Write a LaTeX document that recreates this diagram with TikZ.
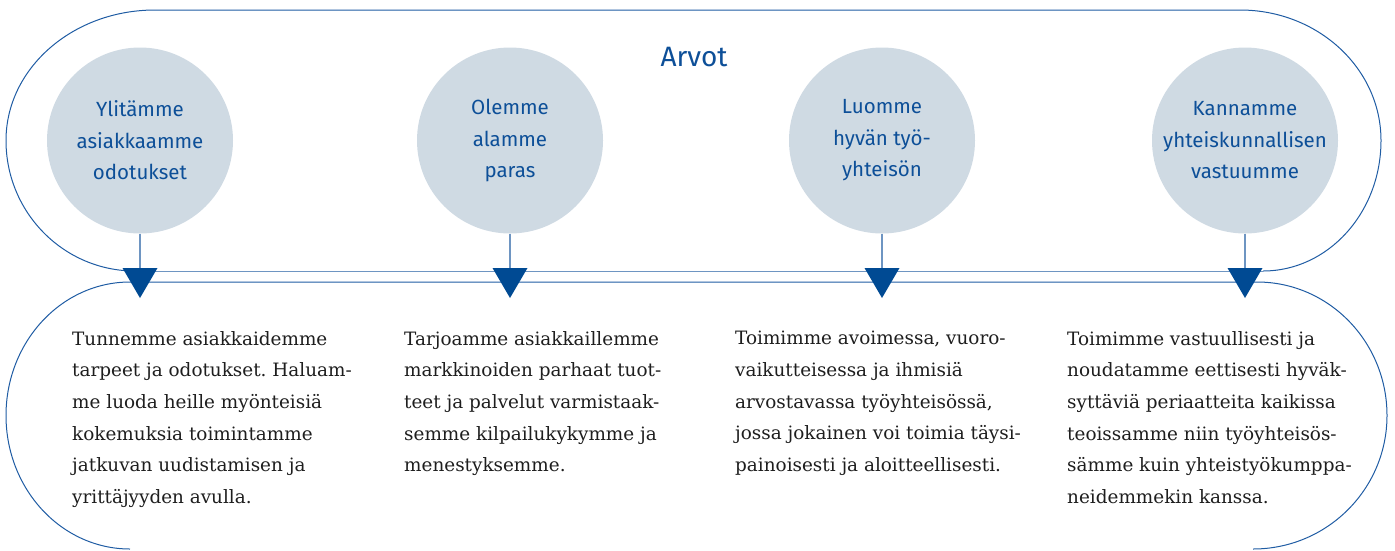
\documentclass[tikz,border=0pt]{standalone}
\usepackage{fontspec}
\setmainfont{DejaVu Serif}
\newfontfamily\labfont{Fira Sans}
\frenchspacing
\definecolor{frameblue}{HTML}{1F5CA3}
\definecolor{lightline}{HTML}{6E95C2}
\definecolor{circfill}{HTML}{CFDAE3}
\definecolor{labblue}{HTML}{0D4F98}
\definecolor{tridark}{HTML}{004A93}
\definecolor{bodytext}{HTML}{1E1E1E}
\tikzset{
  frame/.style={draw=frameblue, line width=1pt},
  lightframe/.style={draw=lightline, line width=1pt},
  circ/.style={circle, fill=circfill, minimum size=186pt, inner sep=0pt, align=center,
    text=labblue, font=\labfont\fontsize{20.5}{31.5}\selectfont},
  conn/.style={draw=lightline, line width=1.3pt},
  tri/.style={fill=tridark},
  body/.style={anchor=north west, inner sep=0pt, align=left, text=bodytext,
    font=\frenchspacing\fontsize{18.4}{31.7}\selectfont},
  titletext/.style={text=labblue, font=\labfont\fontsize{28}{30}\selectfont}
}
\begin{document}
\begin{tikzpicture}[x=1pt,y=-1pt]
\useasboundingbox (0,0) rectangle (1395,550);
% upper frame
\draw[frame] (135,271) .. controls (63.8,271) and (6,212.6) .. (6,140.5)
  .. controls (6,68.4) and (72.7,10) .. (155,10) -- (1240,10)
  .. controls (1317.9,10) and (1381,68.4) .. (1381,140.5)
  .. controls (1381,212.6) and (1328.2,271) .. (1263,271);
\draw[lightframe] (135,271) -- (1263,271);
% lower frame
\draw[frame] (130,549) .. controls (61.5,549) and (6,489.2) .. (6,415.5)
  .. controls (6,341.8) and (61.5,282) .. (130,282) -- (1257,282)
  .. controls (1328.8,282) and (1387,341.8) .. (1387,415.5)
  .. controls (1387,489.2) and (1327,549) .. (1253,549);
% title
\node[titletext] (title) at (694,57) {Arvot};
% circles
\node[circ] (c1) at (140,140.5) {Ylitämme\\asiakkaamme\\odotukset};
\node[circ] (c2) at (510,140.5) {Olemme\\alamme\\paras};
\node[circ] (c3) at (882,140.5) {Luomme\\hyvän työ-\\yhteisön};
\node[circ] (c4) at (1245,140.5) {Kannamme\\yhteiskunnallisen\\vastuumme};
% triangles and connectors
\foreach \i/\x in {1/140,2/510,3/882,4/1245}{
  \coordinate (t\i) at (\x,268);
  \draw[conn] (c\i.south) -- (t\i);
  \fill[tri] (t\i) ++(-17.5,0) -- ++(35,0) -- ++(-17.5,30) -- cycle;
}
% body texts
\node[body] (b1) at (72,331) {Tunnemme asiakkaidemme\\tarpeet ja odotukset. Haluam-\\me luoda heille myönteisiä\\kokemuksia toimintamme\\jatkuvan uudistamisen ja\\yrittäjyyden avulla.};
\node[body] (b2) at (404,331) {Tarjoamme asiakkaillemme\\markkinoiden parhaat tuot-\\teet ja palvelut varmistaak-\\semme kilpailukykymme ja\\menestyksemme.};
\node[body] (b3) at (735,331) {Toimimme avoimessa, vuoro-\\vaikutteisessa ja ihmisiä\\arvostavassa työyhteisössä,\\jossa jokainen voi toimia täysi-\\painoisesti ja aloitteellisesti.};
\node[body] (b4) at (1067,331) {Toimimme vastuullisesti ja\\noudatamme eettisesti hyväk-\\syttäviä periaatteita kaikissa\\teoissamme niin työyhteisös-\\sämme kuin yhteistyökumppa-\\neidemmekin kanssa.};
\end{tikzpicture}
\end{document}
